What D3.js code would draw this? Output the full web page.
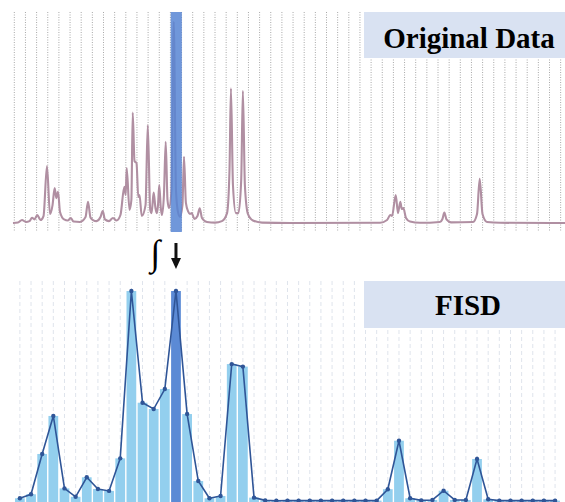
<!DOCTYPE html>
<html>
<head>
<meta charset="utf-8">
<script src="https://cdn.jsdelivr.net/npm/d3@7"></script>
<style>
  body { margin: 0; background: #fff; }
</style>
</head>
<body>
<div class="canvas"></div>
<script>
// spectrum points: [position in bins, intensity]
const spectrumPos = [-0.12, 0.33, 0.69, 1.05, 1.36, 1.59, 1.81, 2.06, 2.35, 2.62, 2.93, 3.20, 3.43, 3.62, 3.77, 3.92,
  4.10, 4.46, 4.82, 5.06, 5.31, 5.89, 6.39, 6.61, 6.83, 7.06, 7.37, 7.73, 7.93, 8.13, 8.49, 8.85, 9.17, 9.52,
  9.87, 9.99, 10.08, 10.33, 10.50, 10.62, 10.78, 10.96, 11.12, 11.23, 11.43, 11.77, 11.97, 12.19, 12.30, 12.39,
  12.50, 12.66, 12.78, 12.89, 13.00, 13.14, 13.24, 13.42, 13.58, 13.74, 13.87, 14.10, 14.30, 14.50, 14.68, 14.86,
  15.08, 15.22, 15.39, 15.60, 15.75, 15.91, 16.16, 16.43, 16.63, 16.83, 17.28, 18.0, 18.62, 19.08, 19.30, 19.43,
  19.61, 19.87, 20.10, 20.35, 20.50, 20.68, 20.95, 21.40, 22.22, 24.73, 32.8, 33.43, 33.72, 33.88, 34.21, 34.41,
  34.62, 34.75, 34.89, 35.13, 35.49, 36.38, 38.17, 38.40, 38.57, 38.76, 39.17, 41.14, 41.50, 41.74, 41.99, 42.40,
  43.57, 49.39];
const spectrumVal = [0, 0.2, 1.4, 0.5, 0.9, 2.5, 1.7, 3.8, 1.4, 3.3, 27, 4.3, 8.5, 16.6, 11.8, 14.8,
  5.2, 1.7, 1.2, 2.4, 0.7, 0.5, 2.8, 10.1, 2.6, 1.4, 0.9, 2.8, 5.7, 1.7, 0.9, 2.4, 1.2, 3.8,
  17.2, 13.3, 26, 6.2, 10.9, 52.3, 29.4, 28.4, 12.3, 13.3, 3.3, 8.5, 46.4, 6.2, 4.7, 8.5,
  14.4, 7.1, 4.7, 8.5, 18, 7.1, 3.8, 13.3, 38.5, 10.9, 7.1, 15.6, 95.4, 15.6, 5.2, 3,
  8.5, 31.4, 9.5, 5.4, 4.3, 4.7, 1.9, 3.3, 7, 2.4, 0.5, 0.2, 0.9, 4.7, 25, 63.8,
  18, 4.7, 4.7, 20.4, 62.6, 18, 4.3, 1.2, 0.2, 0, 0.1, 1.4, 3.8, 3.3, 13.3, 4.7,
  10.1, 6.6, 7.1, 2.4, 0.7, 0.1, 0.5, 1.9, 4.9, 1.7, 0.3, 0.5, 4.3, 20.9, 4.3, 0.5,
  0.1, 0];

// integrated bin values (FISD)
const binValues = [1.3, 3.2, 22.4, 40.5, 6.0, 2.0, 11.3, 5.7, 4.8, 20.3, 100, 46.8, 43.8, 53.3, 100, 41.4,
  9.5, 1.3, 2.4, 65.2, 64.0, 1.6, 0.3, 0.1, 0.2, 0.2, 0.2, 0.2, 0.2, 0.2, 0.2, 0.2, 0.2,
  5.6, 28.7, 1.3, 0.3, 0.5, 4.9, 0.5, 0.5, 20, 0.8, 0.2, 0.2, 0.2, 0.2, 0.2, 0.2];
const highlightBin = 14;
const titles = ['Original Data', 'FISD'];
const serif = "'Liberation Serif'";

const svg = d3.select('.canvas')
  .append('svg')
    .attr('width', 565)
    .attr('height', 502);

const nBins = binValues.length;
// shared x: bin edges
const x = d3.scaleLinear()
  .domain([0, nBins])
  .range([14.3, 14.3 + 11.15 * nBins]);

//---------- upper panel: original spectrum ----------
const yTop = d3.scaleLinear().domain([0, 100]).range([223, 12]);
const upper = svg.append('g');

upper.selectAll('line.grid')
  .data(d3.range(nBins + 1))
  .enter().append('line')
    .attr('x1', d => x(d)).attr('x2', d => x(d))
    .attr('y1', 12).attr('y2', 232)
    .attr('stroke', '#a8a8a8')
    .attr('stroke-width', 1)
    .attr('stroke-dasharray', '1,1.5');

const spec = spectrumPos.map((p, i) => [p, spectrumVal[i]]);
const line = d3.line()
  .x(d => x(d[0]))
  .y(d => yTop(d[1]))
  .curve(d3.curveMonotoneX);

upper.append('path')
  .datum(spec)
  .attr('d', line)
  .attr('fill', 'none')
  .attr('stroke', '#b08fa2')
  .attr('stroke-width', 2.1)
  .attr('stroke-linejoin', 'round');

upper.append('rect')
  .attr('x', x(highlightBin) + 0.3)
  .attr('width', x(highlightBin + 1) - x(highlightBin))
  .attr('y', 12)
  .attr('height', 220)
  .attr('fill', '#5785d3')
  .attr('opacity', 0.85);

upper.append('rect')
  .attr('x', 364).attr('y', 12)
  .attr('width', 201).attr('height', 46)
  .attr('fill', '#d9e2f2');
upper.append('text')
  .attr('x', 469).attr('y', 48)
  .attr('text-anchor', 'middle')
  .style('font-family', serif)
  .style('font-weight', 'bold')
  .style('font-size', '29px')
  .text(titles[0]);

//---------- integral arrow ----------
svg.append('text')
  .attr('x', 155.5).attr('y', 265)
  .attr('text-anchor', 'middle')
  .style('font-family', serif)
  .style('font-size', '36px')
  .text('∫');
const ax = (x(highlightBin) + x(highlightBin + 1)) / 2;
svg.append('line')
  .attr('x1', ax).attr('x2', ax)
  .attr('y1', 243).attr('y2', 261)
  .attr('stroke', '#111').attr('stroke-width', 3);
svg.append('path')
  .attr('d', `M${ax - 5},258 L${ax + 5},258 L${ax},269 Z`)
  .attr('fill', '#111');

//---------- lower panel: FISD ----------
const yBot = d3.scaleLinear().domain([0, 100]).range([501, 291]);
const lower = svg.append('g');
const center = i => (x(i) + x(i + 1)) / 2;

lower.selectAll('line.grid')
  .data(d3.range(nBins))
  .enter().append('line')
    .attr('x1', d => center(d)).attr('x2', d => center(d))
    .attr('y1', 281).attr('y2', 502)
    .attr('stroke', '#dfe4ec')
    .attr('stroke-width', 1)
    .attr('stroke-dasharray', '4,3');

lower.selectAll('rect.bar')
  .data(binValues)
  .enter().append('rect')
    .attr('x', (d, i) => x(i) + 0.7)
    .attr('width', (d, i) => x(i + 1) - x(i) - 1.4)
    .attr('y', d => yBot(d))
    .attr('height', d => 502 - yBot(d))
    .attr('fill', (d, i) => i === highlightBin ? '#5b8ad5' : '#93cfee');

const fisdLine = d3.line()
  .x((d, i) => center(i))
  .y(d => yBot(d));
lower.append('path')
  .datum(binValues)
  .attr('d', fisdLine)
  .attr('fill', 'none')
  .attr('stroke', '#2f5597')
  .attr('stroke-width', 1.6);
lower.selectAll('circle')
  .data(binValues)
  .enter().append('circle')
    .attr('cx', (d, i) => center(i))
    .attr('cy', d => yBot(d))
    .attr('r', 2.2)
    .attr('fill', '#2f5597');

lower.append('rect')
  .attr('x', 364).attr('y', 281)
  .attr('width', 201).attr('height', 47)
  .attr('fill', '#d9e2f2');
lower.append('text')
  .attr('x', 468).attr('y', 315)
  .attr('text-anchor', 'middle')
  .style('font-family', serif)
  .style('font-weight', 'bold')
  .style('font-size', '29px')
  .text(titles[1]);
</script>
</body>
</html>
